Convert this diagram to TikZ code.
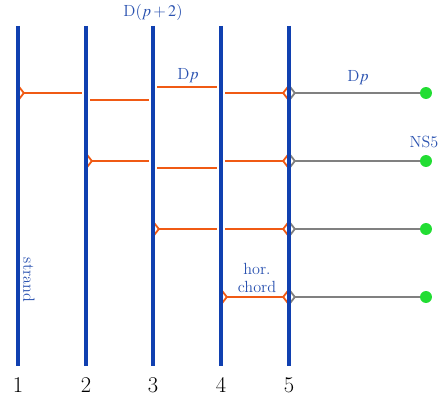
\documentclass[tikz,border=0pt]{standalone}
\usepackage{mathptmx}
\usetikzlibrary{arrows.meta}

\definecolor{strandblue}{HTML}{1040B0}
\definecolor{chordorange}{HTML}{F05A14}
\definecolor{branegreen}{HTML}{22DD33}
\definecolor{textblue}{HTML}{2A52B0}

\tikzset{
  strandline/.style={line width=2.8pt, strandblue},
  chord/.style={line width=1.3pt, chordorange},
  dpline/.style={line width=1.3pt, gray},
  gapl/.style={shorten <=0.1cm},
  gapr/.style={shorten >=0.1cm},
  Fork/.tip={Straight Barb[reversed, length=3.5pt, width=9pt]},
  brane/.style={circle, fill=branegreen, inner sep=0pt, minimum size=8.5pt},
  lbl/.style={textblue, font=\fontsize{11.5}{13}\selectfont, align=center},
  num/.style={black, font=\fontsize{16}{17}\selectfont}
}

\begin{document}
\begin{tikzpicture}[x=0.025cm, y=-0.025cm]
  \useasboundingbox (0,0) rectangle (440,400);

  % Rows of the chords
  \coordinate (row1) at (0,93);
  \coordinate (row1lo) at (0,100);
  \coordinate (row1hi) at (0,87);
  \coordinate (row2) at (0,161);
  \coordinate (row2lo) at (0,168);
  \coordinate (row3) at (0,229);
  \coordinate (row4) at (0,297);

  % Strands (end points)
  \coordinate (s1) at (18,26);
  \coordinate (s2) at (86,26);
  \coordinate (s3) at (153,26);
  \coordinate (s4) at (221,26);
  \coordinate (s5) at (289,26);

  % NS5 branes
  \node[brane] (ns1) at (426,93) {};
  \node[brane] (ns2) at (426,161) {};
  \node[brane] (ns3) at (426,229) {};
  \node[brane] (ns4) at (426,297) {};

  % Row 1 chords
  \draw[chord, {Fork}-, gapr] (s1 |- row1) -- (s2 |- row1);
  \draw[chord, gapl, gapr] (s2 |- row1lo) -- (s3 |- row1lo);
  \draw[chord, gapl, gapr] (s3 |- row1hi) -- (s4 |- row1hi);
  \draw[chord, -{Fork}, gapl] (s4 |- row1) -- (s5 |- row1);

  % Row 2 chords
  \draw[chord, {Fork}-, gapr] (s2 |- row2) -- (s3 |- row2);
  \draw[chord, gapl, gapr] (s3 |- row2lo) -- (s4 |- row2lo);
  \draw[chord, -{Fork}, gapl] (s4 |- row2) -- (s5 |- row2);

  % Row 3 chords
  \draw[chord, {Fork}-, gapr] (s3 |- row3) -- (s4 |- row3);
  \draw[chord, -{Fork}, gapl] (s4 |- row3) -- (s5 |- row3);

  % Row 4 chord
  \draw[chord, {Fork}-{Fork}] (s4 |- row4) -- (s5 |- row4);

  % Dp branes to the NS5 branes
  \draw[dpline, {Fork}-] (s5 |- row1) -- (ns1);
  \draw[dpline, {Fork}-] (s5 |- row2) -- (ns2);
  \draw[dpline, {Fork}-] (s5 |- row3) -- (ns3);
  \draw[dpline, {Fork}-] (s5 |- row4) -- (ns4);

  % Strands
  \draw[strandline] (s1) -- (18,366);
  \draw[strandline] (s2) -- (86,366);
  \draw[strandline] (s3) -- (153,366);
  \draw[strandline] (s4) -- (221,366);
  \draw[strandline] (s5) -- (289,366);

  % Strand numbers
  \node[num] (n1) at (18,385) {1};
  \node[num] (n2) at (86,385) {2};
  \node[num] (n3) at (153,385) {3};
  \node[num] (n4) at (221,385) {4};
  \node[num] (n5) at (289,385) {5};

  % Labels
  \node[lbl] (dp2) at (153,12) {D$(p+2)$};
  \node[lbl] (dpchord) at (188,76) {D$p$};
  \node[lbl] (dpbrane) at (358,78) {D$p$};
  \node[lbl] (ns) at (424,142) {NS5};
  \node[lbl] (hor) at (257,278) {hor.\\chord};
  \node[lbl, rotate=-90] (str) at (29,280) {strand};

\end{tikzpicture}
\end{document}
